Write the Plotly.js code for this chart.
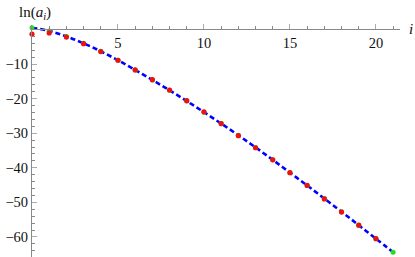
<!DOCTYPE html>
<html>
<head>
<meta charset="utf-8">
<script src="https://cdn.plot.ly/plotly-3.0.1.min.js"></script>
<style>html,body{margin:0;padding:0;background:#fff;}#chart{width:415px;height:257px;}</style>
</head>
<body>
<div id="chart"></div>
<script>
// Data
var indices = [0,1,2,3,4,5,6,7,8,9,10,11,12,13,14,15,16,17,18,19,20,21];
var observedIdx = [0,1,2,3,4,5,6,7,8,9,10,11,12,13,14,15,16,17,18,19,20];
var observedLn = [-1.3,-1.0,-2.2,-4.1,-6.4,-8.9,-11.7,-14.5,-17.5,-20.6,-23.8,-27.2,-30.7,-34.2,-37.7,-41.4,-45.1,-49.0,-52.8,-56.6,-60.5];
var fitLn = [0.5,-0.4,-2.0,-4.0,-6.3,-8.9,-11.7,-14.6,-17.6,-20.7,-23.9,-27.2,-30.6,-34.1,-37.7,-41.4,-45.1,-48.9,-52.7,-56.6,-60.5,-64.4];
var xTickVals = [5,10,15,20];
var xTickText = ['5','10','15','20'];
var yTickVals = [-10,-20,-30,-40,-50,-60];
var yTickText = ['\u221210','\u221220','\u221230','\u221240','\u221250','\u221260'];

var yMin = -65.8, yMax = 1.3;
var font = {family: 'Liberation Serif', size: 14.5, color: '#111'};

var traces = [
  {x: indices, y: fitLn, mode: 'lines', line: {color: '#0000ff', width: 2.6, dash: '5px,3px', shape: 'spline'}, hoverinfo: 'skip', cliponaxis: false},
  {x: indices, y: fitLn, mode: 'markers', marker: {color: '#22dd22', size: 5}, cliponaxis: false},
  {x: observedIdx, y: observedLn, mode: 'markers', marker: {color: '#ee1111', size: 5.2}, cliponaxis: false}
];

var layout = {
  width: 415, height: 257,
  margin: {l: 32, r: 15, t: 25, b: 0},
  paper_bgcolor: '#fff', plot_bgcolor: '#fff',
  showlegend: false,
  font: font,
  xaxis: {
    range: [0, 21.4], anchor: 'free', position: (0 - yMin) / (yMax - yMin), side: 'bottom',
    showgrid: false, zeroline: false, showline: true, linecolor: '#888', linewidth: 1,
    tickmode: 'array', tickvals: xTickVals, ticktext: xTickText,
    ticks: 'inside', ticklen: 5, tickcolor: '#aaa', tickwidth: 1,
    minor: {dtick: 1, tick0: 0, ticks: 'inside', ticklen: 3, tickcolor: '#888', showgrid: false},
    tickfont: font
  },
  yaxis: {
    range: [yMin, yMax],
    showgrid: false, zeroline: false, showline: true, linecolor: '#888', linewidth: 1,
    tickmode: 'array', tickvals: yTickVals, ticktext: yTickText,
    ticks: 'inside', ticklen: 5, tickcolor: '#aaa', tickwidth: 1,
    minor: {dtick: 2, tick0: 0, ticks: 'inside', ticklen: 3, tickcolor: '#888', showgrid: false},
    tickfont: font
  },
  annotations: [
    {text: 'ln(<i>a</i><sub><i>i</i></sub>)', xref: 'paper', yref: 'paper', x: 0.008, y: 1, xanchor: 'center', yanchor: 'bottom', yshift: 1, showarrow: false, font: {family: 'Liberation Serif', size: 15, color: '#111'}},
    {text: '<i>i</i>', xref: 'paper', yref: 'y', x: 1.03, y: 0, xanchor: 'center', yanchor: 'middle', showarrow: false, font: {family: 'Liberation Serif', size: 15, color: '#111'}}
  ]
};

Plotly.newPlot('chart', traces, layout, {displayModeBar: false, staticPlot: true});
</script>
</body>
</html>
